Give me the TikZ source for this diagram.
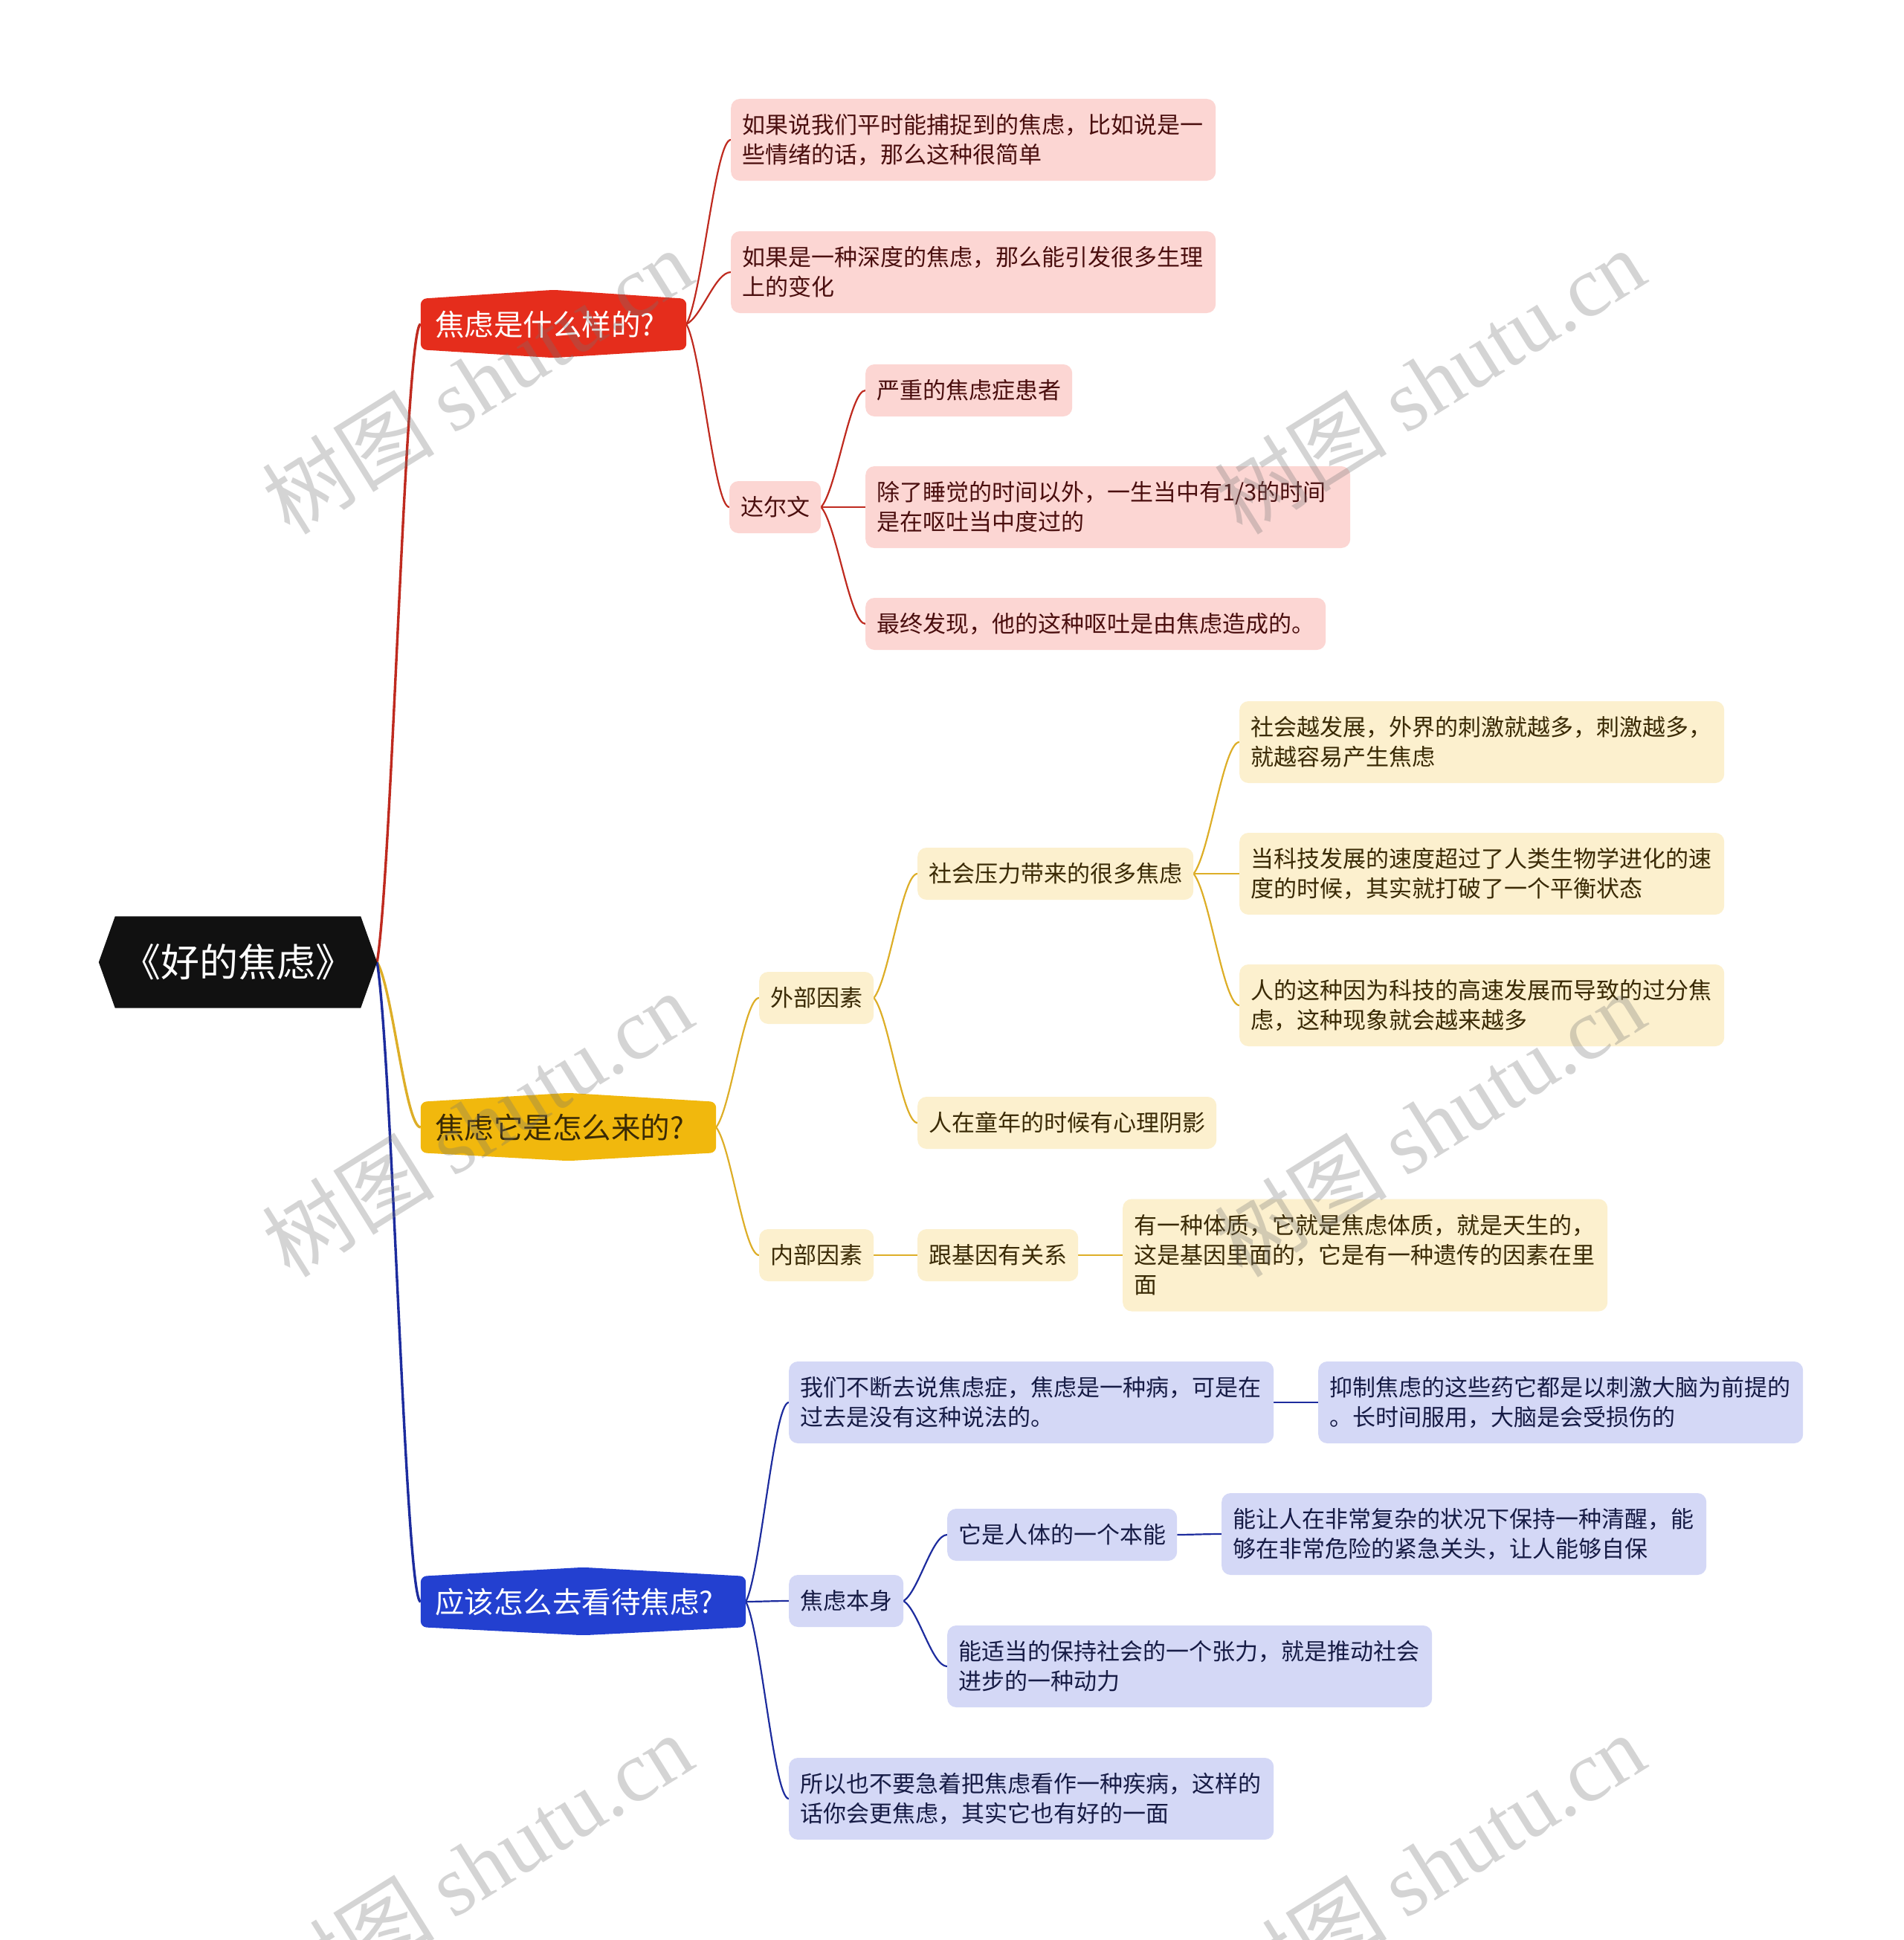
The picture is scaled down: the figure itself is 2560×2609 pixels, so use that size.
\documentclass[tikz,border=0pt]{standalone}
\usepackage{fontspec}
\setmainfont{Noto Sans CJK SC}
\newfontfamily\wmfont{Liberation Serif}
\usetikzlibrary{calc}
\pgfdeclarelayer{paper}
\pgfdeclarelayer{bg}
\pgfdeclarelayer{fg}
\pgfsetlayers{paper,bg,main,fg}

\definecolor{rootB}{HTML}{111111}
\definecolor{redB}{HTML}{E52D1C}
\definecolor{redL}{HTML}{FCD6D3}
\definecolor{redT}{HTML}{4A0E0E}
\definecolor{redE}{HTML}{BF2A1F}
\definecolor{yelB}{HTML}{F1B80D}
\definecolor{yelL}{HTML}{FCF0CE}
\definecolor{yelT}{HTML}{3A2A05}
\definecolor{yelE}{HTML}{DDAE27}
\definecolor{bluB}{HTML}{2340D0}
\definecolor{bluL}{HTML}{D4D8F6}
\definecolor{bluT}{HTML}{161B45}
\definecolor{bluE}{HTML}{1D2C9E}

\tikzset{
  leaf/.style={font=\fontsize{31}{40}\selectfont, align=left, inner xsep=15pt, inner ysep=0pt, anchor=west, rounded corners=12pt},
  rleaf/.style={leaf, fill=redL, text=redT},
  yleaf/.style={leaf, fill=yelL, text=yelT},
  bleaf/.style={leaf, fill=bluL, text=bluT},
  oneline/.style={minimum height=70pt},
  twoline/.style={minimum height=110pt, text width=622pt},
  threeline/.style={minimum height=151pt, text width=622pt},
  branch/.style={font=\fontsize{39.5}{48}\selectfont, align=left, inner xsep=19pt, inner ysep=0pt, minimum height=68pt},
  rootnode/.style={font=\fontsize{52}{60}\selectfont, text=white, inner sep=0pt, minimum width=330pt, minimum height=123pt},
  rcon/.style={draw=redE, line width=2.2pt},
  ycon/.style={draw=yelE, line width=2.2pt},
  bcon/.style={draw=bluE, line width=2.2pt},
  rmain/.style={draw=redE, line width=3.4pt},
  ymain/.style={draw=yelE, line width=3.4pt},
  bmain/.style={draw=bluE, line width=3.4pt},
  wm/.style={font=\fontsize{116}{116}\selectfont, text=black!55, text opacity=0.3, rotate=32, inner sep=0pt}
}

\newcommand\conn[3]{%
  \draw[#1] let \p1=(#2), \p2=(#3) in
    (\p1) .. controls ({\x1+0.35*(\x2-\x1)},{\y1+0.15*(\y2-\y1)}) and ({\x1+0.65*(\x2-\x1)},{\y2}) .. (\p2);}

\newcommand\hexshape[2]{%
  \fill[#1, rounded corners=8pt] (#2.north west) -- ([yshift=12pt]#2.north) -- (#2.north east)
    -- (#2.south east) -- ([yshift=-11pt]#2.south) -- (#2.south west) -- cycle;}

\begin{document}
\begin{tikzpicture}[x=1pt, y=-1pt]
\useasboundingbox (0,0) rectangle (2560,2609);
\begin{pgfonlayer}{paper}
  \fill[white] (0,0) rectangle (2560,2609);
\end{pgfonlayer}

% root
\node[rootnode] (root) at (320,1294) {《好的焦虑》};
\coordinate (rt) at ([xshift=22pt]root.east);

% branches
\node[branch, text=white, text width=319pt] (A) at (744.5,436) {焦虑是什么样的?};
\node[branch, text=yelT, text width=359pt] (B) at (764.5,1516) {焦虑它是怎么来的?};
\node[branch, text=white, text width=399pt] (C) at (784.5,2154) {应该怎么去看待焦虑?};

% red leaves
\node[rleaf, twoline] (A1) at (983,188) {如果说我们平时能捕捉到的焦虑，比如说是一\\些情绪的话，那么这种很简单};
\node[rleaf, twoline] (A2) at (983,366) {如果是一种深度的焦虑，那么能引发很多生理\\上的变化};
\node[rleaf, oneline] (A3) at (981,682) {达尔文};
\node[rleaf, oneline] (A31) at (1164,525) {严重的焦虑症患者};
\node[rleaf, twoline] (A32) at (1164,682) {除了睡觉的时间以外，一生当中有1/3的时间\\是在呕吐当中度过的};
\node[rleaf, oneline] (A33) at (1164,839) {最终发现，他的这种呕吐是由焦虑造成的。};

% yellow leaves
\node[yleaf, oneline] (B1) at (1021,1342) {外部因素};
\node[yleaf, oneline] (B11) at (1234,1175) {社会压力带来的很多焦虑};
\node[yleaf, twoline] (B111) at (1667,998) {社会越发展，外界的刺激就越多，刺激越多，\\就越容易产生焦虑};
\node[yleaf, twoline] (B112) at (1667,1175) {当科技发展的速度超过了人类生物学进化的速\\度的时候，其实就打破了一个平衡状态};
\node[yleaf, twoline] (B113) at (1667,1352) {人的这种因为科技的高速发展而导致的过分焦\\虑，这种现象就会越来越多};
\node[yleaf, oneline] (B12) at (1234,1510) {人在童年的时候有心理阴影};
\node[yleaf, oneline] (B2) at (1021,1688) {内部因素};
\node[yleaf, oneline] (B21) at (1234,1688) {跟基因有关系};
\node[yleaf, threeline] (B211) at (1510,1688) {有一种体质，它就是焦虑体质，就是天生的，\\这是基因里面的，它是有一种遗传的因素在里\\面};

% blue leaves
\node[bleaf, twoline] (C1) at (1061,1886) {我们不断去说焦虑症，焦虑是一种病，可是在\\过去是没有这种说法的。};
\node[bleaf, twoline] (C11) at (1773,1886) {抑制焦虑的这些药它都是以刺激大脑为前提的\\。长时间服用，大脑是会受损伤的};
\node[bleaf, oneline] (C2) at (1061,2153) {焦虑本身};
\node[bleaf, oneline] (C21) at (1274,2064) {它是人体的一个本能};
\node[bleaf, twoline] (C211) at (1643,2063) {能让人在非常复杂的状况下保持一种清醒，能\\够在非常危险的紧急关头，让人能够自保};
\node[bleaf, twoline] (C22) at (1274,2241) {能适当的保持社会的一个张力，就是推动社会\\进步的一种动力};
\node[bleaf, twoline] (C3) at (1061,2419) {所以也不要急着把焦虑看作一种疾病，这样的\\话你会更焦虑，其实它也有好的一面};

\begin{pgfonlayer}{bg}
  % connectors
  \conn{rmain}{rt}{A.west}
  \conn{ymain}{rt}{B.west}
  \conn{bmain}{rt}{C.west}
  \conn{rcon}{A.east}{A1.west}
  \conn{rcon}{A.east}{A2.west}
  \conn{rcon}{A.east}{A3.west}
  \conn{rcon}{A3.east}{A31.west}
  \conn{rcon}{A3.east}{A32.west}
  \conn{rcon}{A3.east}{A33.west}
  \conn{ycon}{B.east}{B1.west}
  \conn{ycon}{B.east}{B2.west}
  \conn{ycon}{B1.east}{B11.west}
  \conn{ycon}{B1.east}{B12.west}
  \conn{ycon}{B11.east}{B111.west}
  \conn{ycon}{B11.east}{B112.west}
  \conn{ycon}{B11.east}{B113.west}
  \conn{ycon}{B2.east}{B21.west}
  \conn{ycon}{B21.east}{B211.west}
  \conn{bcon}{C.east}{C1.west}
  \conn{bcon}{C.east}{C2.west}
  \conn{bcon}{C.east}{C3.west}
  \conn{bcon}{C1.east}{C11.west}
  \conn{bcon}{C2.east}{C21.west}
  \conn{bcon}{C2.east}{C22.west}
  \conn{bcon}{C21.east}{C211.west}
  % shapes
  \fill[rootB] (root.north west) -- (root.north east) -- (rt) -- (root.south east)
     -- (root.south west) -- ([xshift=-22pt]root.west) -- cycle;
  \hexshape{redB}{A}
  \hexshape{yelB}{B}
  \hexshape{bluB}{C}
\end{pgfonlayer}

\begin{pgfonlayer}{fg}
  \node[wm] (w1) at (642,512) {树图 {\wmfont shutu.cn}};
  \node[wm] (w2) at (1923,512) {树图 {\wmfont shutu.cn}};
  \node[wm] (w3) at (642,1511) {树图 {\wmfont shutu.cn}};
  \node[wm] (w4) at (1923,1511) {树图 {\wmfont shutu.cn}};
  \node[wm] (w5) at (642,2509) {树图 {\wmfont shutu.cn}};
  \node[wm] (w6) at (1923,2509) {树图 {\wmfont shutu.cn}};
\end{pgfonlayer}
\end{tikzpicture}
\end{document}
